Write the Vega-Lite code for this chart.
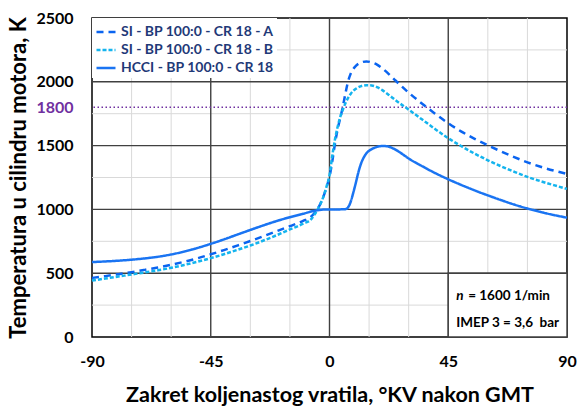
{
  "$schema": "https://vega.github.io/schema/vega-lite/v6.json",
  "width": 475,
  "height": 319,
  "autosize": {"type": "none"},
  "padding": {"left": 92, "top": 18, "right": 12, "bottom": 70},
  "config": {
    "view": {"stroke": "#000000", "strokeWidth": 1.5},
    "font": "Lato"
  },
  "datasets": {
    "curves": [
      {"x": -90, "T": 463, "s": "SI - BP 100:0 - CR 18 - A"},
      {"x": -85, "T": 477, "s": "SI - BP 100:0 - CR 18 - A"},
      {"x": -80, "T": 492, "s": "SI - BP 100:0 - CR 18 - A"},
      {"x": -75, "T": 508, "s": "SI - BP 100:0 - CR 18 - A"},
      {"x": -70, "T": 526, "s": "SI - BP 100:0 - CR 18 - A"},
      {"x": -65, "T": 545, "s": "SI - BP 100:0 - CR 18 - A"},
      {"x": -60, "T": 566, "s": "SI - BP 100:0 - CR 18 - A"},
      {"x": -55, "T": 590, "s": "SI - BP 100:0 - CR 18 - A"},
      {"x": -50, "T": 617, "s": "SI - BP 100:0 - CR 18 - A"},
      {"x": -45, "T": 648, "s": "SI - BP 100:0 - CR 18 - A"},
      {"x": -40, "T": 681, "s": "SI - BP 100:0 - CR 18 - A"},
      {"x": -35, "T": 716, "s": "SI - BP 100:0 - CR 18 - A"},
      {"x": -30, "T": 752, "s": "SI - BP 100:0 - CR 18 - A"},
      {"x": -25, "T": 790, "s": "SI - BP 100:0 - CR 18 - A"},
      {"x": -20, "T": 829, "s": "SI - BP 100:0 - CR 18 - A"},
      {"x": -15, "T": 869, "s": "SI - BP 100:0 - CR 18 - A"},
      {"x": -10, "T": 910, "s": "SI - BP 100:0 - CR 18 - A"},
      {"x": -7, "T": 942, "s": "SI - BP 100:0 - CR 18 - A"},
      {"x": -5, "T": 990, "s": "SI - BP 100:0 - CR 18 - A"},
      {"x": -4, "T": 1022, "s": "SI - BP 100:0 - CR 18 - A"},
      {"x": -3, "T": 1065, "s": "SI - BP 100:0 - CR 18 - A"},
      {"x": -2, "T": 1118, "s": "SI - BP 100:0 - CR 18 - A"},
      {"x": -1, "T": 1182, "s": "SI - BP 100:0 - CR 18 - A"},
      {"x": 0, "T": 1255, "s": "SI - BP 100:0 - CR 18 - A"},
      {"x": 1, "T": 1370, "s": "SI - BP 100:0 - CR 18 - A"},
      {"x": 2, "T": 1505, "s": "SI - BP 100:0 - CR 18 - A"},
      {"x": 3, "T": 1620, "s": "SI - BP 100:0 - CR 18 - A"},
      {"x": 4, "T": 1710, "s": "SI - BP 100:0 - CR 18 - A"},
      {"x": 5, "T": 1800, "s": "SI - BP 100:0 - CR 18 - A"},
      {"x": 6, "T": 1905, "s": "SI - BP 100:0 - CR 18 - A"},
      {"x": 7, "T": 2000, "s": "SI - BP 100:0 - CR 18 - A"},
      {"x": 8, "T": 2062, "s": "SI - BP 100:0 - CR 18 - A"},
      {"x": 9, "T": 2100, "s": "SI - BP 100:0 - CR 18 - A"},
      {"x": 10, "T": 2125, "s": "SI - BP 100:0 - CR 18 - A"},
      {"x": 12, "T": 2152, "s": "SI - BP 100:0 - CR 18 - A"},
      {"x": 14, "T": 2160, "s": "SI - BP 100:0 - CR 18 - A"},
      {"x": 16, "T": 2152, "s": "SI - BP 100:0 - CR 18 - A"},
      {"x": 18, "T": 2135, "s": "SI - BP 100:0 - CR 18 - A"},
      {"x": 20, "T": 2105, "s": "SI - BP 100:0 - CR 18 - A"},
      {"x": 22, "T": 2070, "s": "SI - BP 100:0 - CR 18 - A"},
      {"x": 25, "T": 2010, "s": "SI - BP 100:0 - CR 18 - A"},
      {"x": 30, "T": 1915, "s": "SI - BP 100:0 - CR 18 - A"},
      {"x": 35, "T": 1830, "s": "SI - BP 100:0 - CR 18 - A"},
      {"x": 40, "T": 1750, "s": "SI - BP 100:0 - CR 18 - A"},
      {"x": 45, "T": 1675, "s": "SI - BP 100:0 - CR 18 - A"},
      {"x": 50, "T": 1610, "s": "SI - BP 100:0 - CR 18 - A"},
      {"x": 55, "T": 1553, "s": "SI - BP 100:0 - CR 18 - A"},
      {"x": 60, "T": 1502, "s": "SI - BP 100:0 - CR 18 - A"},
      {"x": 65, "T": 1455, "s": "SI - BP 100:0 - CR 18 - A"},
      {"x": 70, "T": 1410, "s": "SI - BP 100:0 - CR 18 - A"},
      {"x": 75, "T": 1369, "s": "SI - BP 100:0 - CR 18 - A"},
      {"x": 80, "T": 1334, "s": "SI - BP 100:0 - CR 18 - A"},
      {"x": 85, "T": 1304, "s": "SI - BP 100:0 - CR 18 - A"},
      {"x": 90, "T": 1278, "s": "SI - BP 100:0 - CR 18 - A"},

      {"x": -90, "T": 442, "s": "SI - BP 100:0 - CR 18 - B"},
      {"x": -85, "T": 458, "s": "SI - BP 100:0 - CR 18 - B"},
      {"x": -80, "T": 474, "s": "SI - BP 100:0 - CR 18 - B"},
      {"x": -75, "T": 490, "s": "SI - BP 100:0 - CR 18 - B"},
      {"x": -70, "T": 506, "s": "SI - BP 100:0 - CR 18 - B"},
      {"x": -65, "T": 523, "s": "SI - BP 100:0 - CR 18 - B"},
      {"x": -60, "T": 542, "s": "SI - BP 100:0 - CR 18 - B"},
      {"x": -55, "T": 565, "s": "SI - BP 100:0 - CR 18 - B"},
      {"x": -50, "T": 590, "s": "SI - BP 100:0 - CR 18 - B"},
      {"x": -45, "T": 618, "s": "SI - BP 100:0 - CR 18 - B"},
      {"x": -40, "T": 649, "s": "SI - BP 100:0 - CR 18 - B"},
      {"x": -35, "T": 682, "s": "SI - BP 100:0 - CR 18 - B"},
      {"x": -30, "T": 717, "s": "SI - BP 100:0 - CR 18 - B"},
      {"x": -25, "T": 756, "s": "SI - BP 100:0 - CR 18 - B"},
      {"x": -20, "T": 798, "s": "SI - BP 100:0 - CR 18 - B"},
      {"x": -15, "T": 843, "s": "SI - BP 100:0 - CR 18 - B"},
      {"x": -10, "T": 888, "s": "SI - BP 100:0 - CR 18 - B"},
      {"x": -7, "T": 922, "s": "SI - BP 100:0 - CR 18 - B"},
      {"x": -5, "T": 982, "s": "SI - BP 100:0 - CR 18 - B"},
      {"x": -4, "T": 1018, "s": "SI - BP 100:0 - CR 18 - B"},
      {"x": -3, "T": 1063, "s": "SI - BP 100:0 - CR 18 - B"},
      {"x": -2, "T": 1118, "s": "SI - BP 100:0 - CR 18 - B"},
      {"x": -1, "T": 1188, "s": "SI - BP 100:0 - CR 18 - B"},
      {"x": 0, "T": 1268, "s": "SI - BP 100:0 - CR 18 - B"},
      {"x": 1, "T": 1413, "s": "SI - BP 100:0 - CR 18 - B"},
      {"x": 2, "T": 1540, "s": "SI - BP 100:0 - CR 18 - B"},
      {"x": 3, "T": 1640, "s": "SI - BP 100:0 - CR 18 - B"},
      {"x": 4, "T": 1720, "s": "SI - BP 100:0 - CR 18 - B"},
      {"x": 5, "T": 1778, "s": "SI - BP 100:0 - CR 18 - B"},
      {"x": 6, "T": 1830, "s": "SI - BP 100:0 - CR 18 - B"},
      {"x": 8, "T": 1905, "s": "SI - BP 100:0 - CR 18 - B"},
      {"x": 10, "T": 1945, "s": "SI - BP 100:0 - CR 18 - B"},
      {"x": 12, "T": 1966, "s": "SI - BP 100:0 - CR 18 - B"},
      {"x": 14, "T": 1973, "s": "SI - BP 100:0 - CR 18 - B"},
      {"x": 16, "T": 1971, "s": "SI - BP 100:0 - CR 18 - B"},
      {"x": 18, "T": 1958, "s": "SI - BP 100:0 - CR 18 - B"},
      {"x": 20, "T": 1935, "s": "SI - BP 100:0 - CR 18 - B"},
      {"x": 22, "T": 1905, "s": "SI - BP 100:0 - CR 18 - B"},
      {"x": 25, "T": 1856, "s": "SI - BP 100:0 - CR 18 - B"},
      {"x": 30, "T": 1782, "s": "SI - BP 100:0 - CR 18 - B"},
      {"x": 35, "T": 1706, "s": "SI - BP 100:0 - CR 18 - B"},
      {"x": 40, "T": 1630, "s": "SI - BP 100:0 - CR 18 - B"},
      {"x": 45, "T": 1558, "s": "SI - BP 100:0 - CR 18 - B"},
      {"x": 50, "T": 1495, "s": "SI - BP 100:0 - CR 18 - B"},
      {"x": 55, "T": 1437, "s": "SI - BP 100:0 - CR 18 - B"},
      {"x": 60, "T": 1385, "s": "SI - BP 100:0 - CR 18 - B"},
      {"x": 65, "T": 1338, "s": "SI - BP 100:0 - CR 18 - B"},
      {"x": 70, "T": 1295, "s": "SI - BP 100:0 - CR 18 - B"},
      {"x": 75, "T": 1255, "s": "SI - BP 100:0 - CR 18 - B"},
      {"x": 80, "T": 1221, "s": "SI - BP 100:0 - CR 18 - B"},
      {"x": 85, "T": 1190, "s": "SI - BP 100:0 - CR 18 - B"},
      {"x": 90, "T": 1161, "s": "SI - BP 100:0 - CR 18 - B"},

      {"x": -90, "T": 587, "s": "HCCI - BP 100:0 - CR 18"},
      {"x": -85, "T": 592, "s": "HCCI - BP 100:0 - CR 18"},
      {"x": -80, "T": 598, "s": "HCCI - BP 100:0 - CR 18"},
      {"x": -75, "T": 606, "s": "HCCI - BP 100:0 - CR 18"},
      {"x": -70, "T": 616, "s": "HCCI - BP 100:0 - CR 18"},
      {"x": -65, "T": 629, "s": "HCCI - BP 100:0 - CR 18"},
      {"x": -60, "T": 647, "s": "HCCI - BP 100:0 - CR 18"},
      {"x": -55, "T": 670, "s": "HCCI - BP 100:0 - CR 18"},
      {"x": -50, "T": 698, "s": "HCCI - BP 100:0 - CR 18"},
      {"x": -45, "T": 730, "s": "HCCI - BP 100:0 - CR 18"},
      {"x": -40, "T": 765, "s": "HCCI - BP 100:0 - CR 18"},
      {"x": -35, "T": 802, "s": "HCCI - BP 100:0 - CR 18"},
      {"x": -30, "T": 839, "s": "HCCI - BP 100:0 - CR 18"},
      {"x": -25, "T": 875, "s": "HCCI - BP 100:0 - CR 18"},
      {"x": -20, "T": 909, "s": "HCCI - BP 100:0 - CR 18"},
      {"x": -15, "T": 939, "s": "HCCI - BP 100:0 - CR 18"},
      {"x": -10, "T": 966, "s": "HCCI - BP 100:0 - CR 18"},
      {"x": -5, "T": 992, "s": "HCCI - BP 100:0 - CR 18"},
      {"x": -2, "T": 999, "s": "HCCI - BP 100:0 - CR 18"},
      {"x": 0, "T": 1000, "s": "HCCI - BP 100:0 - CR 18"},
      {"x": 3, "T": 1000, "s": "HCCI - BP 100:0 - CR 18"},
      {"x": 6, "T": 1002, "s": "HCCI - BP 100:0 - CR 18"},
      {"x": 7, "T": 1015, "s": "HCCI - BP 100:0 - CR 18"},
      {"x": 8, "T": 1058, "s": "HCCI - BP 100:0 - CR 18"},
      {"x": 9, "T": 1130, "s": "HCCI - BP 100:0 - CR 18"},
      {"x": 10, "T": 1210, "s": "HCCI - BP 100:0 - CR 18"},
      {"x": 11, "T": 1295, "s": "HCCI - BP 100:0 - CR 18"},
      {"x": 12, "T": 1362, "s": "HCCI - BP 100:0 - CR 18"},
      {"x": 13, "T": 1408, "s": "HCCI - BP 100:0 - CR 18"},
      {"x": 14, "T": 1440, "s": "HCCI - BP 100:0 - CR 18"},
      {"x": 16, "T": 1472, "s": "HCCI - BP 100:0 - CR 18"},
      {"x": 18, "T": 1490, "s": "HCCI - BP 100:0 - CR 18"},
      {"x": 20, "T": 1497, "s": "HCCI - BP 100:0 - CR 18"},
      {"x": 22, "T": 1494, "s": "HCCI - BP 100:0 - CR 18"},
      {"x": 24, "T": 1479, "s": "HCCI - BP 100:0 - CR 18"},
      {"x": 26, "T": 1456, "s": "HCCI - BP 100:0 - CR 18"},
      {"x": 28, "T": 1428, "s": "HCCI - BP 100:0 - CR 18"},
      {"x": 30, "T": 1399, "s": "HCCI - BP 100:0 - CR 18"},
      {"x": 35, "T": 1340, "s": "HCCI - BP 100:0 - CR 18"},
      {"x": 40, "T": 1285, "s": "HCCI - BP 100:0 - CR 18"},
      {"x": 45, "T": 1236, "s": "HCCI - BP 100:0 - CR 18"},
      {"x": 50, "T": 1191, "s": "HCCI - BP 100:0 - CR 18"},
      {"x": 55, "T": 1149, "s": "HCCI - BP 100:0 - CR 18"},
      {"x": 60, "T": 1110, "s": "HCCI - BP 100:0 - CR 18"},
      {"x": 65, "T": 1073, "s": "HCCI - BP 100:0 - CR 18"},
      {"x": 70, "T": 1038, "s": "HCCI - BP 100:0 - CR 18"},
      {"x": 75, "T": 1007, "s": "HCCI - BP 100:0 - CR 18"},
      {"x": 80, "T": 980, "s": "HCCI - BP 100:0 - CR 18"},
      {"x": 85, "T": 956, "s": "HCCI - BP 100:0 - CR 18"},
      {"x": 90, "T": 935, "s": "HCCI - BP 100:0 - CR 18"}
    ],
    "vminor": [{"v": -75}, {"v": -60}, {"v": -30}, {"v": -15}, {"v": 15}, {"v": 30}, {"v": 60}, {"v": 75}],
    "hminor": [{"v": 250}, {"v": 750}, {"v": 1250}, {"v": 1750}, {"v": 2250}],
    "vmajor": [{"v": -45}, {"v": 0}, {"v": 45}],
    "hmajor": [{"v": 500}, {"v": 1000}, {"v": 1500}, {"v": 2000}],
    "ref": [{"v": 1800}],
    "box": [{"x1": 45, "x2": 90, "y1": 0, "y2": 500}],
    "n": [{"x": 48, "T": 321, "t": "n"}],
    "notes": [
      {"x": 48, "T": 321, "t": "= 1600 1/min", "k": "a"},
      {"x": 48, "T": 112, "t": "IMEP 3 = 3,6\u00a0 bar", "k": "b"}
    ]
  },
  "layer": [
    {
      "data": {"name": "vminor"},
      "mark": {"type": "rule", "color": "#d9d9d9", "strokeWidth": 1},
      "encoding": {"x": {"field": "v", "type": "quantitative"}}
    },
    {
      "data": {"name": "hminor"},
      "mark": {"type": "rule", "color": "#d9d9d9", "strokeWidth": 1},
      "encoding": {"y": {"field": "v", "type": "quantitative"}}
    },
    {
      "data": {"name": "vmajor"},
      "mark": {"type": "rule", "color": "#404040", "strokeWidth": 1.4},
      "encoding": {"x": {"field": "v", "type": "quantitative"}}
    },
    {
      "data": {"name": "hmajor"},
      "mark": {"type": "rule", "color": "#404040", "strokeWidth": 1.4},
      "encoding": {"y": {"field": "v", "type": "quantitative"}}
    },
    {
      "data": {"name": "ref"},
      "mark": {"type": "rule", "color": "#7030a0", "strokeWidth": 1.5, "strokeDash": [1.5, 2.5]},
      "encoding": {"y": {"field": "v", "type": "quantitative"}}
    },
    {
      "data": {"name": "curves"},
      "mark": {"type": "line", "strokeWidth": 2.5, "interpolate": "monotone"},
      "encoding": {
        "x": {
          "field": "x", "type": "quantitative",
          "scale": {"domain": [-90, 90], "nice": false},
          "axis": {
            "values": [-90, -45, 0, 45, 90],
            "title": "Zakret koljenastog vratila, °KV nakon GMT",
            "titleFontSize": 21.5, "titleFontWeight": "bold", "titleColor": "#000000", "titlePadding": 15,
            "labelExpr": "'' + datum.value",
            "labelOverlap": false, "labelFlush": false,
            "labelFontSize": 16, "labelFontWeight": "bold", "labelColor": "#000000", "labelPadding": 16,
            "ticks": false, "domain": false, "grid": false
          }
        },
        "y": {
          "field": "T", "type": "quantitative",
          "scale": {"domain": [0, 2500], "nice": false},
          "axis": {
            "values": [0, 500, 1000, 1500, 1800, 2000, 2500],
            "title": "Temperatura u cilindru motora, K",
            "titleFontSize": 22, "titleFontWeight": "bold", "titleColor": "#000000", "titlePadding": 5,
            "labelExpr": "'' + datum.value",
            "labelOverlap": false, "labelFlush": false,
            "labelFontSize": 16, "labelFontWeight": "bold", "labelPadding": 19,
            "labelColor": {"condition": {"test": "datum.value == 1800", "value": "#7030a0"}, "value": "#000000"},
            "ticks": false, "domain": false, "grid": false
          }
        },
        "color": {
          "field": "s", "type": "nominal",
          "scale": {
            "domain": ["SI - BP 100:0 - CR 18 - A", "SI - BP 100:0 - CR 18 - B", "HCCI - BP 100:0 - CR 18"],
            "range": ["#0a64f0", "#14b4ee", "#1a74f2"]
          },
          "legend": {
            "title": null, "orient": "top-left", "offset": 0,
            "fillColor": "#ffffff", "padding": 3,
            "symbolType": "stroke", "symbolSize": 361, "symbolStrokeWidth": 2.5,
            "labelFontSize": 14, "labelFontWeight": "bold", "labelColor": "#1f3a78",
            "labelOffset": 4, "labelLimit": 300, "rowPadding": 0
          }
        },
        "strokeDash": {
          "field": "s", "type": "nominal",
          "scale": {
            "domain": ["SI - BP 100:0 - CR 18 - A", "SI - BP 100:0 - CR 18 - B", "HCCI - BP 100:0 - CR 18"],
            "range": [[7, 5], [4, 2], [1, 0]]
          },
          "legend": {
            "title": null, "orient": "top-left", "offset": 0,
            "fillColor": "#ffffff", "padding": 3,
            "symbolType": "stroke", "symbolSize": 361, "symbolStrokeWidth": 2.5,
            "labelFontSize": 14, "labelFontWeight": "bold", "labelColor": "#1f3a78",
            "labelOffset": 4, "labelLimit": 300, "rowPadding": 0
          }
        }
      }
    },
    {
      "data": {"name": "box"},
      "mark": {"type": "rect", "fill": "#ffffff", "stroke": "#404040", "strokeWidth": 1.4},
      "encoding": {
        "x": {"field": "x1", "type": "quantitative"},
        "x2": {"field": "x2"},
        "y": {"field": "y1", "type": "quantitative"},
        "y2": {"field": "y2"}
      }
    },
    {
      "data": {"name": "n"},
      "mark": {"type": "text", "align": "left", "baseline": "middle", "fontSize": 13.5, "fontWeight": "bold", "fontStyle": "italic", "color": "#000000"},
      "encoding": {
        "x": {"field": "x", "type": "quantitative"},
        "y": {"field": "T", "type": "quantitative"},
        "text": {"field": "t"}
      }
    },
    {
      "data": {"name": "notes"},
      "transform": [{"filter": "datum.k == 'a'"}],
      "mark": {"type": "text", "align": "left", "baseline": "middle", "fontSize": 13.5, "fontWeight": "bold", "color": "#000000", "dx": 12},
      "encoding": {
        "x": {"field": "x", "type": "quantitative"},
        "y": {"field": "T", "type": "quantitative"},
        "text": {"field": "t"}
      }
    },
    {
      "data": {"name": "notes"},
      "transform": [{"filter": "datum.k == 'b'"}],
      "mark": {"type": "text", "align": "left", "baseline": "middle", "fontSize": 13.5, "fontWeight": "bold", "color": "#000000"},
      "encoding": {
        "x": {"field": "x", "type": "quantitative"},
        "y": {"field": "T", "type": "quantitative"},
        "text": {"field": "t"}
      }
    }
  ]
}
